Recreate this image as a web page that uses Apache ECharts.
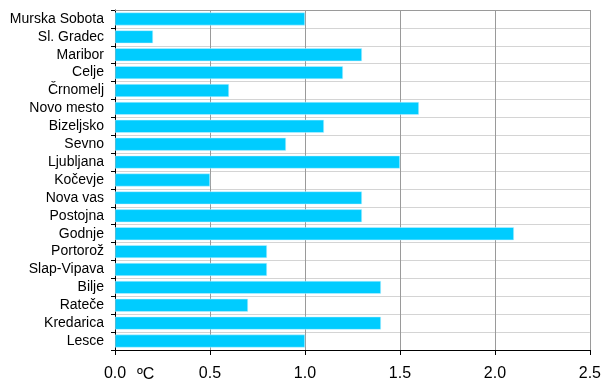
<!DOCTYPE html>
<html><head><meta charset="utf-8">
<script src="https://cdn.jsdelivr.net/npm/echarts@6/dist/echarts.min.js"></script>
<style>html,body{margin:0;padding:0;background:#fff}#c{width:604px;height:382px}</style>
</head><body><div id="c"></div>
<script>
const categories = ["Murska Sobota","Sl. Gradec","Maribor","Celje","Črnomelj","Novo mesto","Bizeljsko","Sevno","Ljubljana","Kočevje","Nova vas","Postojna","Godnje","Portorož","Slap-Vipava","Bilje","Rateče","Kredarica","Lesce"];
const values = [1.0,0.2,1.3,1.2,0.6,1.6,1.1,0.9,1.5,0.5,1.3,1.3,2.1,0.8,0.8,1.4,0.7,1.4,1.0];
const unitLabel = "ºC";
const font = "Liberation Sans, Arial, sans-serif";
const chart = echarts.init(document.getElementById('c'), null, {renderer:'canvas'});
chart.setOption({
  animation:false,
  grid:{left:115,right:14,top:10,bottom:31,containLabel:false},
  xAxis:[{
    type:'value',min:0,max:2.5,interval:0.5,position:'bottom',
    axisLine:{show:true,lineStyle:{color:'#000',width:1}},
    axisTick:{show:true,length:5,lineStyle:{color:'#000'}},
    axisLabel:{color:'#000',fontSize:16,fontFamily:font,margin:16,formatter:v=>v.toFixed(1)},
    splitLine:{show:true,lineStyle:{color:'#9a9a9a',width:1}}
  },{
    type:'value',min:0,max:2.5,interval:0.5,position:'top',
    axisLine:{show:true,lineStyle:{color:'#9a9a9a',width:1}},
    axisTick:{show:false},axisLabel:{show:false},splitLine:{show:false}
  }],
  yAxis:{
    type:'category',data:categories,inverse:true,
    axisLine:{show:true,lineStyle:{color:'#000',width:1}},
    axisTick:{show:true,length:4,interval:0,lineStyle:{color:'#000'}},
    axisLabel:{color:'#000',fontSize:14,fontFamily:font,margin:11,interval:0},
    splitLine:{show:true,interval:0,lineStyle:{color:'#d4d4d4',width:1}}
  },
  graphic:[{type:'text',left:137,top:367,style:{text:unitLabel,fontSize:16,fontFamily:font,fill:'#000'}}],
  series:[{
    type:'bar',data:values,xAxisIndex:0,barCategoryGap:'28%',
    itemStyle:{color:'#00CCFF',borderColor:'#c8f2ff',borderWidth:0.5}
  }]
});
</script></body></html>
